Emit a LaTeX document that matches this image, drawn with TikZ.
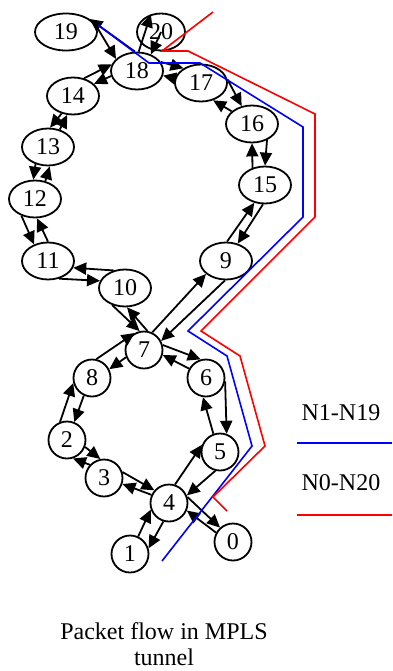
\documentclass[tikz,border=0pt]{standalone}
\usepackage{fontspec}
\setmainfont{Liberation Serif}
\usetikzlibrary{shapes.geometric,arrows.meta}
\tikzset{
  router/.style={draw, line width=0.9pt, ellipse, minimum width=26pt, minimum height=18.5pt, inner sep=0pt},
  hop/.style={draw, line width=0.9pt, circle, minimum size=18.5pt, inner sep=0pt},
  flow/.style={line width=0.9pt, -{Triangle[length=6.5pt,width=6pt]}},
  lsp/.style={line width=0.8pt}
}

\begin{document}
\begin{tikzpicture}[x=0.5pt, y=-0.5pt, font=\fontsize{12}{13}\selectfont]
  \useasboundingbox (0,0) rectangle (392,671);
  % nodes
	\node [router, minimum width=31pt] (19) at (66,32) {19};
	\node [router, minimum width=24pt] (20) at (161,32) {20};
	\node [router] (18) at (137,71) {18};
	\node [router] (17) at (201,83) {17};
	\node [router] (16) at (252,124) {16};
	\node [router] (15) at (265,185) {15};
	\node [router] (14) at (73,96) {14};
	\node [router] (13) at (48,147) {13};
	\node [router] (12) at (35,199) {12};
	\node [router] (11) at (48,261) {11};
	\node [router] (10) at (125,288) {10};
	\node [router] (9) at (226,261) {9};
	\node [hop] (7) at (144,350) {7};
	\node [hop] (8) at (92,378) {8};
	\node [hop] (6) at (206,378) {6};
	\node [hop] (2) at (67,440) {2};
	\node [hop] (5) at (220,452) {5};
	\node [hop] (3) at (104,478) {3};
	\node [hop] (4) at (169,503) {4};
	\node [hop] (1) at (130,554) {1};
	\node [hop] (0) at (233,542) {0};
	% edges
	%% upper ring
	\draw [flow] (19.15) to (18.150);
	\draw [flow] (18.96) to (19.29);
	\draw [flow] (18.85) to (20.120);
	\draw [flow] (20.center) to (18.50);
	\draw [flow] (14.58) to (18.165);
	\draw [flow] (18.191) to (14.30);
	\draw [flow] (14.237) to (13.84);
	\draw [flow] (13.56) to (14.253);
	\draw [flow] (13.234) to (12.95);
	\draw [flow] (12.60) to (13.275);
	\draw [flow] (12.231) to (11.130);
	\draw [flow] (11.90) to (12.276);
	\draw [flow] (10.123) to (11.345);
	\draw [flow] (11.302) to (10.164);
	\draw [flow] (10.233) to (7.103);
	\draw [flow] (7.80) to (10.276);
	\draw [flow] (7.65) to (9.213);
	\draw [flow] (9.267) to (7.28);
	\draw [flow] (9.87) to (15.239);
	\draw [flow] (15.264) to (9.56);
	\draw [flow] (15.126) to (16.270);
	\draw [flow] (16.313) to (15.90);
	\draw [flow] (16.148) to (17.305);
	\draw [flow] (17.8) to (16.120);
	\draw [flow] (17.170) to (18.350);
	\draw [flow] (18.21) to (17.140);
	%% lower ring
	\draw [flow] (7.15) to (6.106);
	\draw [flow] (6.151) to (7.345);
	\draw [flow] (8.77) to (7.119);
	\draw [flow] (7.202) to (8.27);
	\draw [flow] (2.111) to (8.195);
	\draw [flow] (8.245) to (2.68);
	\draw [flow] (2.339) to (3.101);
	\draw [flow] (3.137) to (2.288);
	\draw [flow] (3.18) to (4.139);
	\draw [flow] (4.155) to (3.342);
	\draw [flow] (4.72) to (5.158);
	\draw [flow] (5.256) to (4.23);
	\draw [flow] (5.110) to (6.261);
	\draw [flow] (6.350) to (5.70);
	\draw [flow] (1.65) to (4.200);
	\draw [flow] (4.253) to (1.17);
	\draw [flow] (4.18) to (0.132);
	\draw [flow] (0.151) to (4.337);
	% tunnels
	\draw [lsp, blue] (98,25) -- (149,63) -- (200,63) -- (303,127) -- (303,217) -- (188,331)
	  -- (227,356) -- (252,446) -- (162,561);
	\draw [lsp, red] (213,12) -- (162,51) -- (188,51) -- (315,114) -- (315,217) -- (201,331)
	  -- (240,356) -- (265,446) -- (213,497) -- (227,511);
	% legend
	\node (l1) at (341,413) {N1-N19};
	\draw [lsp, blue] (297,443) -- (392,443);
	\node (l2) at (341,483) {N0-N20};
	\draw [lsp, red] (297,515) -- (392,515);
	\node [align=center, anchor=north, inner sep=0pt] (cap) at (164,622) {Packet flow in MPLS\\tunnel};
\end{tikzpicture}
\end{document}
